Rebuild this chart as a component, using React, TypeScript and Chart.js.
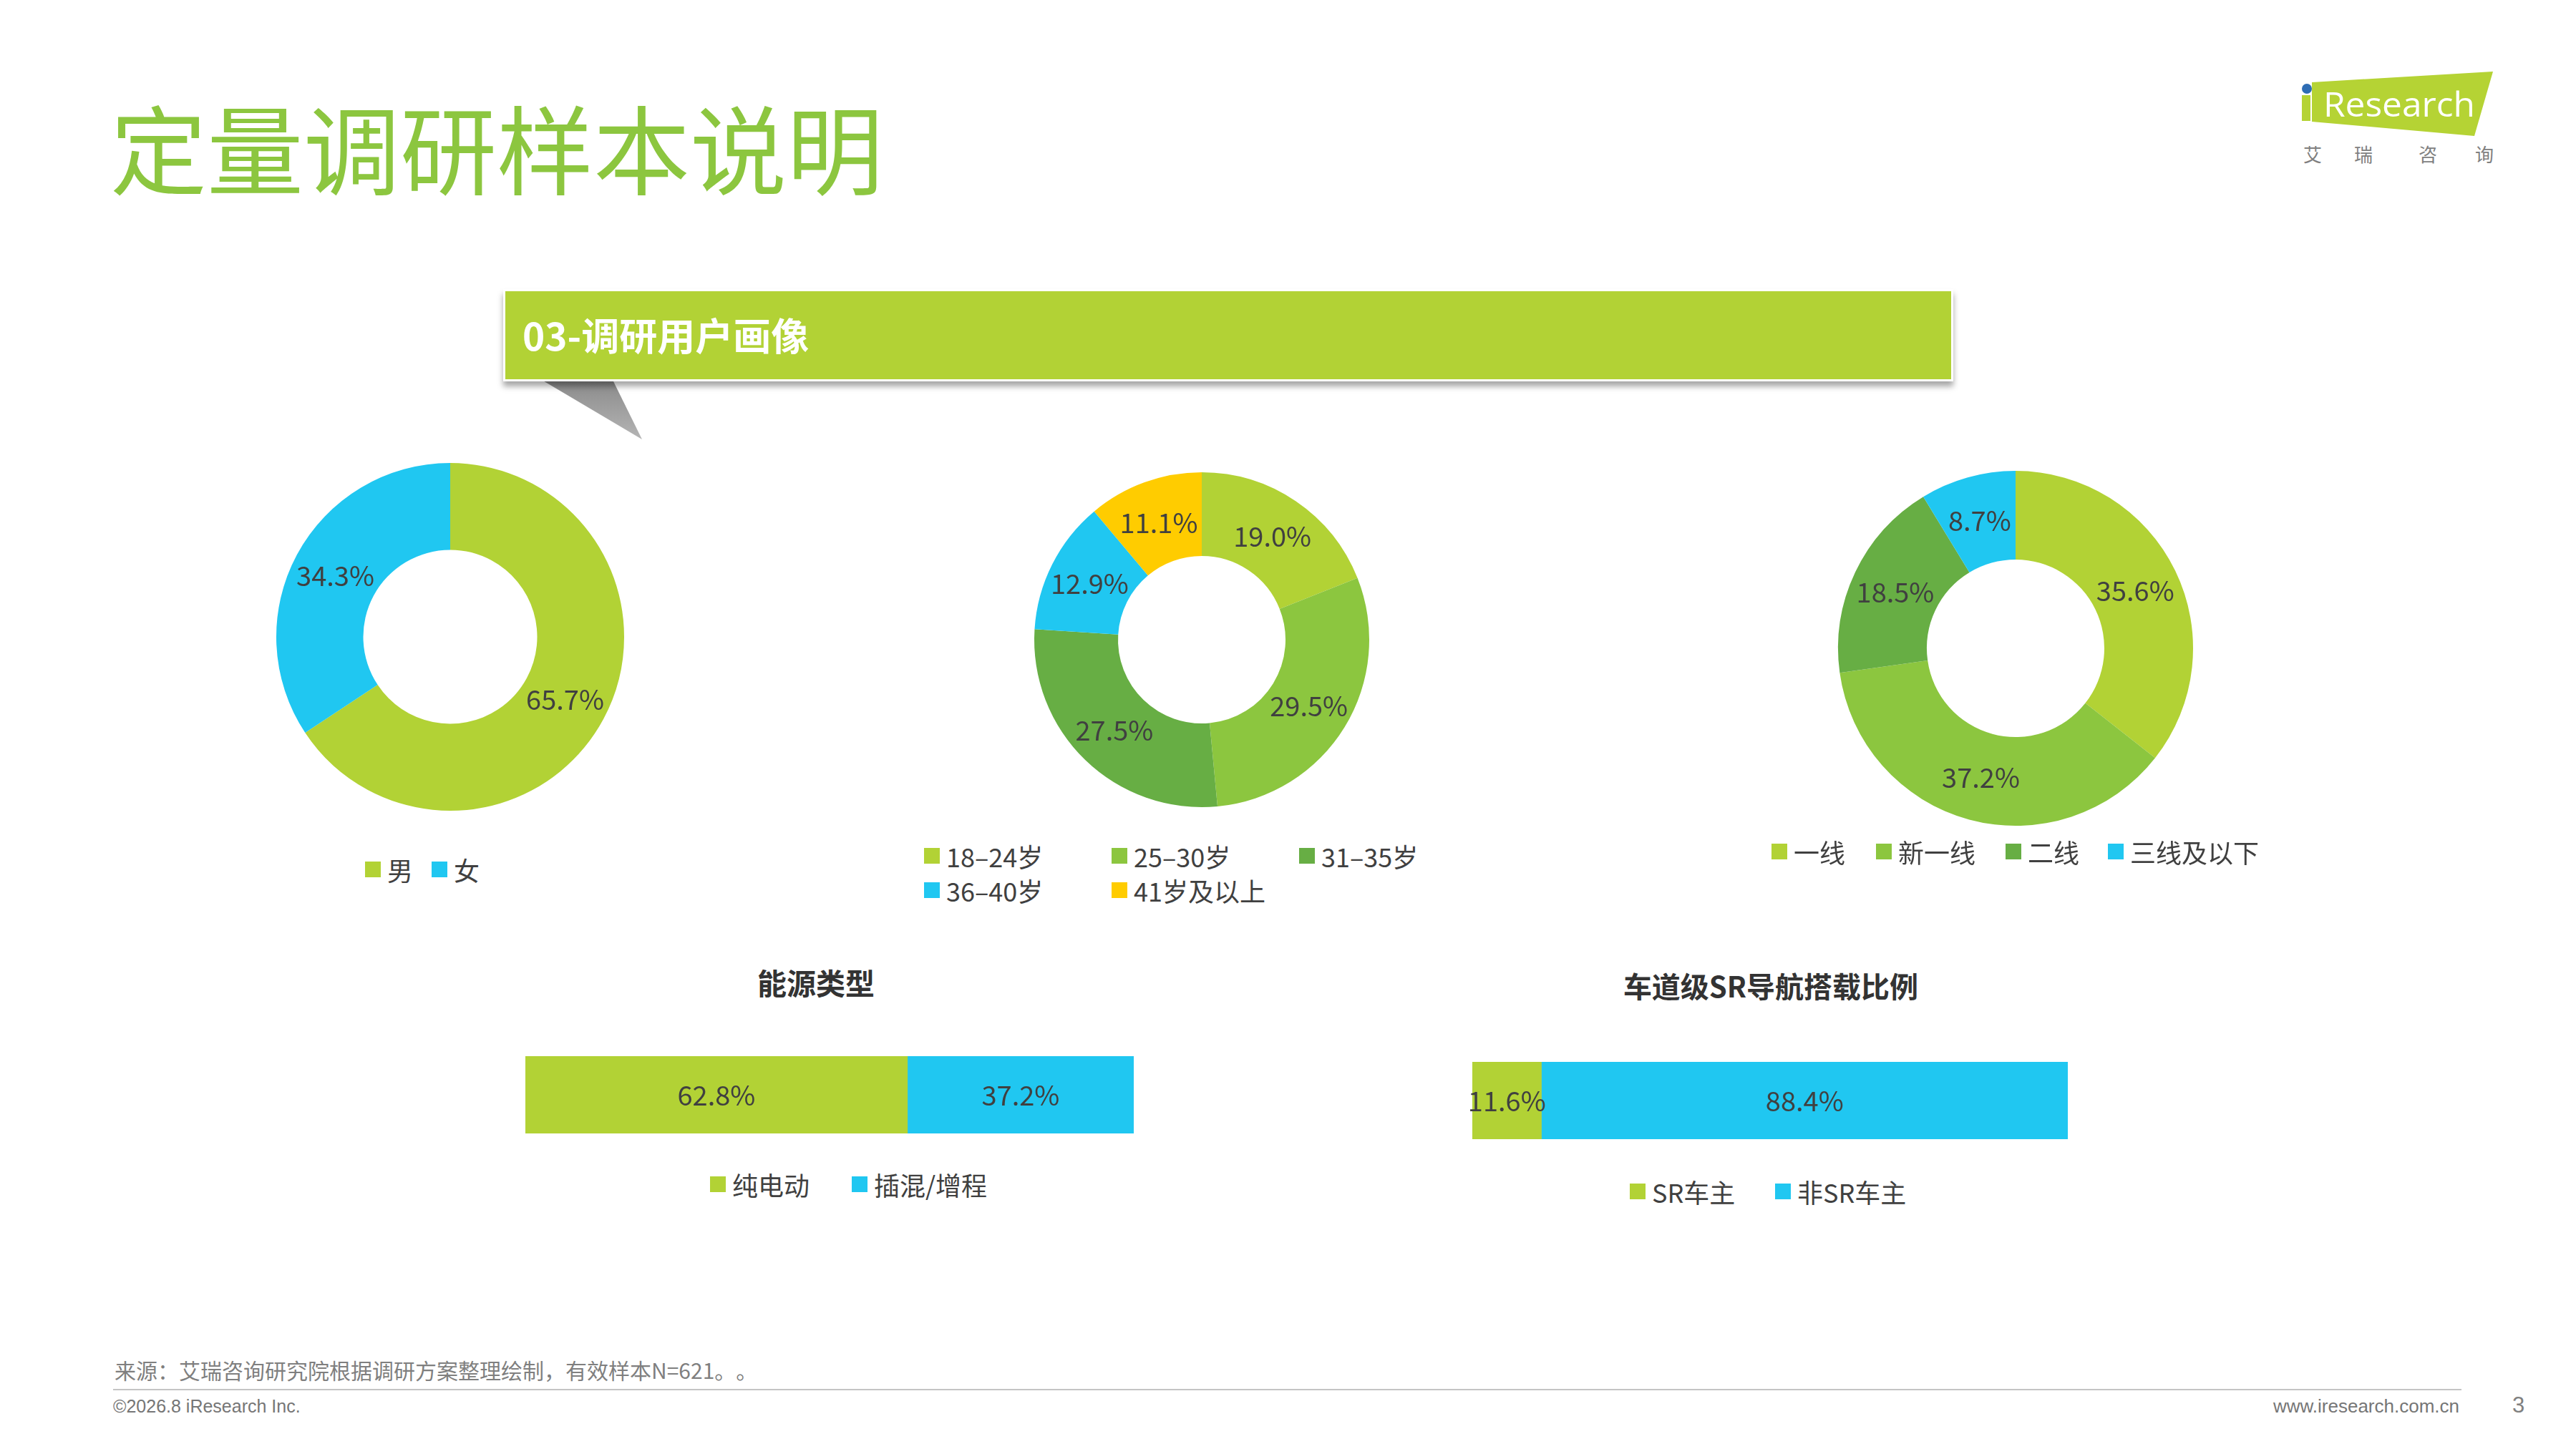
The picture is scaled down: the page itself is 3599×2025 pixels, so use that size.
import React, { useEffect, useRef } from 'react';
import { Chart, registerables } from 'chart.js';

Chart.register(...registerables);

// ---------------- data ----------------
const genderLabels = ['男', '女'];
const genderValues = [65.7, 34.3];

const ageLabels = ['18–24岁', '25–30岁', '31–35岁', '36–40岁', '41岁及以上'];
const ageValues = [19.0, 29.5, 27.5, 12.9, 11.1];

const cityLabels = ['一线', '新一线', '二线', '三线及以下'];
const cityValues = [35.6, 37.2, 18.5, 8.7];

const energyTitle = '能源类型';
const energyLabels = ['纯电动', '插混/增程'];
const energyValues = [62.8, 37.2];

const srTitle = '车道级SR导航搭载比例';
const srLabels = ['SR车主', '非SR车主'];
const srValues = [11.6, 88.4];

// ---------------- styles ----------------
const LIME = '#B2D235';
const GREEN = '#8CC63F';
const DGREEN = '#67AE44';
const BLUE = '#20C7F1';
const YELLOW = '#FFCC00';
const TXT = '#404040';
const CJK = '"Noto Sans CJK SC", "Noto Sans", sans-serif';
const LATIN = '"Liberation Sans", Arial, sans-serif';

const genderColors = [LIME, BLUE];
const ageColors = [LIME, GREEN, DGREEN, BLUE, YELLOW];
const cityColors = [LIME, GREEN, DGREEN, BLUE];
const energyColors = [LIME, BLUE];
const srColors = [LIME, BLUE];

const valueLabelPlugin = {
  id: 'valueLabels',
  afterDatasetsDraw(chart: any, _args: any, opts: any) {
    const ctx = chart.ctx;
    ctx.save();
    ctx.font = opts.font || `38px ${CJK}`;
    ctx.fillStyle = opts.color || TXT;
    ctx.textAlign = 'center';
    ctx.textBaseline = 'middle';
    chart.data.datasets.forEach((ds: any, di: number) => {
      const meta = chart.getDatasetMeta(di);
      meta.data.forEach((el: any, i: number) => {
        const v = ds.data[i];
        const p = el.getCenterPoint();
        ctx.fillText(Number(v).toFixed(1) + '%', p.x, p.y + 1);
      });
    });
    ctx.restore();
  },
};

function Donut(props: { cx: number; cy: number; r: number; labels: string[]; values: number[]; colors: string[] }) {
  const { cx, cy, r, labels, values, colors } = props;
  const ref = useRef<HTMLCanvasElement>(null);
  const size = 2 * r + 40;
  useEffect(() => {
    const chart = new Chart(ref.current as HTMLCanvasElement, {
      type: 'doughnut',
      data: {
        labels,
        datasets: [{ data: values, backgroundColor: colors, borderWidth: 0, hoverOffset: 0 } as any],
      },
      options: {
        responsive: false,
        maintainAspectRatio: false,
        animation: false,
        events: [],
        cutout: '50%',
        radius: r,
        layout: { padding: 0 },
        plugins: {
          legend: { display: false },
          tooltip: { enabled: false },
          valueLabels: { font: `38px ${CJK}`, color: TXT },
        } as any,
      } as any,
      plugins: [valueLabelPlugin as any],
    });
    return () => chart.destroy();
  }, []);
  return (
    <canvas
      ref={ref}
      width={size}
      height={size}
      style={{ position: 'absolute', left: cx - size / 2, top: cy - size / 2, width: size, height: size }}
    />
  );
}

function StackBar(props: { left: number; top: number; width: number; height: number; labels: string[]; values: number[]; colors: string[] }) {
  const { left, top, width, height, labels, values, colors } = props;
  const ref = useRef<HTMLCanvasElement>(null);
  const pad = 40;
  useEffect(() => {
    const chart = new Chart(ref.current as HTMLCanvasElement, {
      type: 'bar',
      data: {
        labels: [''],
        datasets: labels.map((l, i) => ({
          label: l,
          data: [values[i]],
          backgroundColor: colors[i],
          borderWidth: 0,
          barPercentage: 1,
          categoryPercentage: 1,
        })),
      },
      options: {
        indexAxis: 'y',
        responsive: false,
        maintainAspectRatio: false,
        animation: false,
        events: [],
        layout: { padding: { left: pad, right: pad, top: 0, bottom: 0 } },
        scales: {
          x: { stacked: true, min: 0, max: 100, display: false },
          y: { stacked: true, display: false },
        },
        plugins: {
          legend: { display: false },
          tooltip: { enabled: false },
          valueLabels: { font: `38px ${CJK}`, color: TXT },
        } as any,
      } as any,
      plugins: [valueLabelPlugin as any],
    });
    return () => chart.destroy();
  }, []);
  const w = width + 2 * pad;
  return (
    <canvas
      ref={ref}
      width={w}
      height={height}
      style={{ position: 'absolute', left: left - pad, top, width: w, height }}
    />
  );
}

function LegendItem(props: { x: number; cy: number; color: string; text: string }) {
  const { x, cy, color, text } = props;
  return (
    <div
      style={{
        position: 'absolute',
        left: x,
        top: cy - 26,
        height: 52,
        display: 'flex',
        alignItems: 'center',
        fontFamily: CJK,
        fontSize: 36,
        color: TXT,
        whiteSpace: 'nowrap',
        lineHeight: 1,
      }}
    >
      <span style={{ display: 'inline-block', width: 22, height: 22, background: color, marginRight: 9 }} />
      <span>{text}</span>
    </div>
  );
}

function Legend(props: { labels: string[]; colors: string[]; xs: number[]; ys: number[] }) {
  const { labels, colors, xs, ys } = props;
  return (
    <>
      {labels.map((l, i) => (
        <LegendItem key={l} x={xs[i]} cy={ys[i]} color={colors[i]} text={l} />
      ))}
    </>
  );
}

function CenterText(props: { cx: number; cy: number; text: string; size: number }) {
  return (
    <div
      style={{
        position: 'absolute',
        left: props.cx - 400,
        width: 800,
        top: props.cy - 30,
        height: 60,
        lineHeight: '60px',
        textAlign: 'center',
        fontFamily: CJK,
        fontWeight: 700,
        fontSize: props.size,
        color: '#333333',
        whiteSpace: 'nowrap',
      }}
    >
      {props.text}
    </div>
  );
}

export default function App() {
  useEffect(() => {
    document.body.style.margin = '0';
  }, []);
  return (
    <div
      style={{
        position: 'absolute',
        left: 0,
        top: 0,
        width: 3599,
        height: 2025,
        background: '#ffffff',
        overflow: 'hidden',
        fontFamily: CJK,
      }}
    >
      {/* Title */}
      <div
        style={{
          position: 'absolute',
          left: 154,
          top: 136,
          fontSize: 135,
          lineHeight: 1,
          fontWeight: 400,
          color: '#8CC63F',
          whiteSpace: 'nowrap',
          fontFamily: CJK,
        }}
      >
        定量调研样本说明
      </div>

      {/* Logo + banner tail */}
      <svg width={3599} height={2025} style={{ position: 'absolute', left: 0, top: 0 }}>
        <defs>
          <linearGradient id="tailGrad" x1="0" y1="0" x2="0" y2="1">
            <stop offset="0" stopColor="#8a8a8a" />
            <stop offset="1" stopColor="#b5b5b5" />
          </linearGradient>
        </defs>
        <polygon points="757,531 856,531 897,614" fill="url(#tailGrad)" />
        <polygon points="3230,115 3483,100 3457,190 3230,170" fill="#B5D334" />
        <rect x={3216} y={133} width={12} height={36} fill="#B5D334" />
        <circle cx={3223} cy={124} r={7} fill="#2E6DB4" />
        <text
          x={3246}
          y={163}
          fontFamily={'"Open Sans", "Noto Sans", sans-serif'}
          fontSize={47}
          fill="#ffffff"
          textLength={212}
          lengthAdjust="spacingAndGlyphs"
        >
          Research
        </text>
        {['艾', '瑞', '咨', '询'].map((c, i) => (
          <text key={c} x={[3218, 3289, 3379, 3458][i]} y={226} fontFamily={CJK} fontSize={26} fill="#808080">
            {c}
          </text>
        ))}
      </svg>

      {/* Banner */}
      <div
        style={{
          position: 'absolute',
          left: 703,
          top: 404,
          width: 2026,
          height: 129,
          boxSizing: 'border-box',
          background: '#B2D235',
          border: '3px solid #ffffff',
          boxShadow: '0 7px 8px rgba(0,0,0,0.35)',
        }}
      />
      <div
        style={{
          position: 'absolute',
          left: 730,
          top: 437,
          height: 60,
          lineHeight: '60px',
          fontFamily: CJK,
          fontWeight: 700,
          fontSize: 53,
          color: '#ffffff',
          whiteSpace: 'nowrap',
        }}
      >
        03-调研用户画像
      </div>

      {/* Donuts */}
      <Donut cx={629} cy={890} r={243} labels={genderLabels} values={genderValues} colors={genderColors} />
      <Donut cx={1679} cy={894} r={234} labels={ageLabels} values={ageValues} colors={ageColors} />
      <Donut cx={2816} cy={906} r={248} labels={cityLabels} values={cityValues} colors={cityColors} />

      <Legend labels={genderLabels} colors={genderColors} xs={[510, 603]} ys={[1215, 1215]} />
      <Legend
        labels={ageLabels}
        colors={ageColors}
        xs={[1291, 1553, 1815, 1291, 1553]}
        ys={[1196, 1196, 1196, 1244, 1244]}
      />
      <Legend labels={cityLabels} colors={cityColors} xs={[2475, 2621, 2802, 2945]} ys={[1190, 1190, 1190, 1190]} />

      {/* Bars */}
      <CenterText cx={1140} cy={1372} text={energyTitle} size={41} />
      <CenterText cx={2474} cy={1377} text={srTitle} size={40} />
      <StackBar left={734} top={1476} width={850} height={108} labels={energyLabels} values={energyValues} colors={energyColors} />
      <StackBar left={2057} top={1484} width={832} height={108} labels={srLabels} values={srValues} colors={srColors} />
      <Legend labels={energyLabels} colors={energyColors} xs={[992, 1190]} ys={[1655, 1655]} />
      <Legend labels={srLabels} colors={srColors} xs={[2277, 2480]} ys={[1665, 1665]} />

      {/* Footer */}
      <div
        style={{
          position: 'absolute',
          left: 160,
          top: 1894,
          height: 40,
          lineHeight: '40px',
          fontFamily: CJK,
          fontSize: 30,
          color: '#7f7f7f',
          whiteSpace: 'nowrap',
          textSpacingTrim: 'space-all',
        } as any}
      >
        来源：艾瑞咨询研究院根据调研方案整理绘制，有效样本N=621。。
      </div>
      <div style={{ position: 'absolute', left: 158, top: 1941, width: 3281, height: 2, background: '#c4c4c4' }} />
      <div
        style={{
          position: 'absolute',
          left: 158,
          top: 1950,
          height: 30,
          lineHeight: '30px',
          fontFamily: LATIN,
          fontSize: 25,
          color: '#767676',
          whiteSpace: 'nowrap',
        }}
      >
        ©2026.8 iResearch Inc.
      </div>
      <div
        style={{
          position: 'absolute',
          right: 3599 - 3436,
          top: 1950,
          height: 30,
          lineHeight: '30px',
          fontFamily: LATIN,
          fontSize: 26,
          color: '#767676',
          whiteSpace: 'nowrap',
        }}
      >
        www.iresearch.com.cn
      </div>
      <div
        style={{
          position: 'absolute',
          left: 3510,
          top: 1946,
          height: 36,
          lineHeight: '36px',
          fontFamily: LATIN,
          fontSize: 31,
          color: '#808080',
        }}
      >
        3
      </div>
    </div>
  );
}
